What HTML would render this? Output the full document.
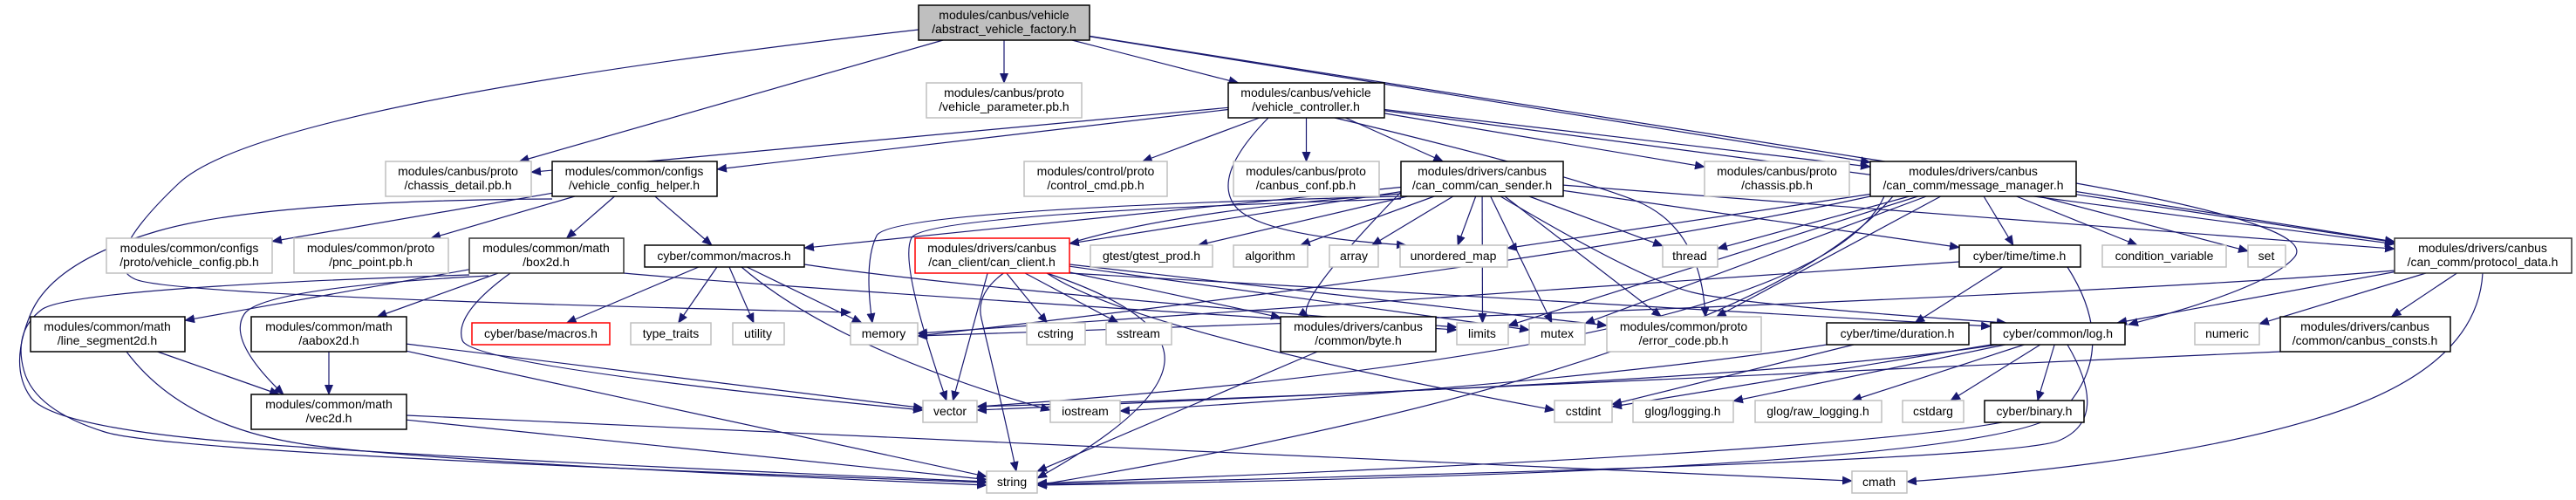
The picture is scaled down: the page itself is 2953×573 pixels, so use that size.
<!DOCTYPE html>
<html><head><meta charset="utf-8"><style>
html,body{margin:0;padding:0;background:#fff;}
svg{display:block;}
text{font-family:"Liberation Sans",sans-serif;font-size:14px;fill:#000;}
</style></head><body>
<svg id="g" width="2953" height="573" viewBox="0 0 2953 573" xmlns="http://www.w3.org/2000/svg">
<defs><marker id="ah" markerWidth="12" markerHeight="10" refX="11" refY="5" orient="auto" markerUnits="userSpaceOnUse"><path d="M0,0 L12,5 L0,10 z" fill="#191970"/></marker></defs>
<g id="edges" fill="none" stroke="#191970" stroke-width="1.2"></g>
<g id="nodes" stroke-width="1.5">
<rect x="1053" y="6" width="196" height="40" fill="#bfbfbf" stroke="#000"/><text x="1151" y="22" text-anchor="middle">modules/canbus/vehicle</text><text x="1151" y="38" text-anchor="middle">/abstract_vehicle_factory.h</text>
<rect x="1062" y="95" width="178" height="40" fill="#fff" stroke="#bfbfbf"/><text x="1151" y="111" text-anchor="middle">modules/canbus/proto</text><text x="1151" y="127" text-anchor="middle">/vehicle_parameter.pb.h</text>
<rect x="1408" y="95" width="179" height="40" fill="#fff" stroke="#000"/><text x="1497" y="111" text-anchor="middle">modules/canbus/vehicle</text><text x="1497" y="127" text-anchor="middle">/vehicle_controller.h</text>
<rect x="442" y="185" width="167" height="40" fill="#fff" stroke="#bfbfbf"/><text x="525" y="201" text-anchor="middle">modules/canbus/proto</text><text x="525" y="217" text-anchor="middle">/chassis_detail.pb.h</text>
<rect x="633" y="185" width="189" height="40" fill="#fff" stroke="#000"/><text x="727" y="201" text-anchor="middle">modules/common/configs</text><text x="727" y="217" text-anchor="middle">/vehicle_config_helper.h</text>
<rect x="1174" y="185" width="164" height="40" fill="#fff" stroke="#bfbfbf"/><text x="1256" y="201" text-anchor="middle">modules/control/proto</text><text x="1256" y="217" text-anchor="middle">/control_cmd.pb.h</text>
<rect x="1414" y="185" width="167" height="40" fill="#fff" stroke="#bfbfbf"/><text x="1497" y="201" text-anchor="middle">modules/canbus/proto</text><text x="1497" y="217" text-anchor="middle">/canbus_conf.pb.h</text>
<rect x="1606" y="185" width="186" height="40" fill="#fff" stroke="#000"/><text x="1699" y="201" text-anchor="middle">modules/drivers/canbus</text><text x="1699" y="217" text-anchor="middle">/can_comm/can_sender.h</text>
<rect x="1954" y="185" width="166" height="40" fill="#fff" stroke="#bfbfbf"/><text x="2037" y="201" text-anchor="middle">modules/canbus/proto</text><text x="2037" y="217" text-anchor="middle">/chassis.pb.h</text>
<rect x="2144" y="185" width="236" height="40" fill="#fff" stroke="#000"/><text x="2262" y="201" text-anchor="middle">modules/drivers/canbus</text><text x="2262" y="217" text-anchor="middle">/can_comm/message_manager.h</text>
<rect x="122" y="273" width="190" height="40" fill="#fff" stroke="#bfbfbf"/><text x="217" y="289" text-anchor="middle">modules/common/configs</text><text x="217" y="305" text-anchor="middle">/proto/vehicle_config.pb.h</text>
<rect x="337" y="273" width="177" height="40" fill="#fff" stroke="#bfbfbf"/><text x="425" y="289" text-anchor="middle">modules/common/proto</text><text x="425" y="305" text-anchor="middle">/pnc_point.pb.h</text>
<rect x="538" y="273" width="177" height="40" fill="#fff" stroke="#333"/><text x="626" y="289" text-anchor="middle">modules/common/math</text><text x="626" y="305" text-anchor="middle">/box2d.h</text>
<rect x="739" y="281" width="183" height="25" fill="#fff" stroke="#000"/><text x="830" y="298" text-anchor="middle">cyber/common/macros.h</text>
<rect x="1049" y="273" width="177" height="40" fill="#fff" stroke="#f00"/><text x="1137" y="289" text-anchor="middle">modules/drivers/canbus</text><text x="1137" y="305" text-anchor="middle">/can_client/can_client.h</text>
<rect x="1250" y="281" width="140" height="25" fill="#fff" stroke="#bfbfbf"/><text x="1320" y="298" text-anchor="middle">gtest/gtest_prod.h</text>
<rect x="1414" y="281" width="85" height="25" fill="#fff" stroke="#bfbfbf"/><text x="1456" y="298" text-anchor="middle">algorithm</text>
<rect x="1524" y="281" width="56" height="25" fill="#fff" stroke="#bfbfbf"/><text x="1552" y="298" text-anchor="middle">array</text>
<rect x="1605" y="281" width="123" height="25" fill="#fff" stroke="#bfbfbf"/><text x="1666" y="298" text-anchor="middle">unordered_map</text>
<rect x="1906" y="281" width="63" height="25" fill="#fff" stroke="#bfbfbf"/><text x="1937" y="298" text-anchor="middle">thread</text>
<rect x="2246" y="281" width="139" height="25" fill="#fff" stroke="#000"/><text x="2315" y="298" text-anchor="middle">cyber/time/time.h</text>
<rect x="2410" y="281" width="142" height="25" fill="#fff" stroke="#bfbfbf"/><text x="2481" y="298" text-anchor="middle">condition_variable</text>
<rect x="2577" y="281" width="43" height="25" fill="#fff" stroke="#bfbfbf"/><text x="2598" y="298" text-anchor="middle">set</text>
<rect x="2745" y="273" width="203" height="40" fill="#fff" stroke="#333"/><text x="2846" y="289" text-anchor="middle">modules/drivers/canbus</text><text x="2846" y="305" text-anchor="middle">/can_comm/protocol_data.h</text>
<rect x="35" y="363" width="177" height="40" fill="#fff" stroke="#000"/><text x="123" y="379" text-anchor="middle">modules/common/math</text><text x="123" y="395" text-anchor="middle">/line_segment2d.h</text>
<rect x="288" y="363" width="178" height="40" fill="#fff" stroke="#000"/><text x="377" y="379" text-anchor="middle">modules/common/math</text><text x="377" y="395" text-anchor="middle">/aabox2d.h</text>
<rect x="541" y="370" width="158" height="25" fill="#fff" stroke="#f00"/><text x="620" y="387" text-anchor="middle">cyber/base/macros.h</text>
<rect x="723" y="370" width="92" height="25" fill="#fff" stroke="#bfbfbf"/><text x="769" y="387" text-anchor="middle">type_traits</text>
<rect x="840" y="370" width="59" height="25" fill="#fff" stroke="#bfbfbf"/><text x="869" y="387" text-anchor="middle">utility</text>
<rect x="975" y="370" width="77" height="25" fill="#fff" stroke="#bfbfbf"/><text x="1013" y="387" text-anchor="middle">memory</text>
<rect x="1177" y="370" width="67" height="25" fill="#fff" stroke="#bfbfbf"/><text x="1210" y="387" text-anchor="middle">cstring</text>
<rect x="1268" y="370" width="75" height="25" fill="#fff" stroke="#bfbfbf"/><text x="1305" y="387" text-anchor="middle">sstream</text>
<rect x="1468" y="363" width="178" height="40" fill="#fff" stroke="#000"/><text x="1557" y="379" text-anchor="middle">modules/drivers/canbus</text><text x="1557" y="395" text-anchor="middle">/common/byte.h</text>
<rect x="1670" y="370" width="59" height="25" fill="#fff" stroke="#bfbfbf"/><text x="1699" y="387" text-anchor="middle">limits</text>
<rect x="1753" y="370" width="64" height="25" fill="#fff" stroke="#bfbfbf"/><text x="1785" y="387" text-anchor="middle">mutex</text>
<rect x="1842" y="363" width="177" height="40" fill="#fff" stroke="#bfbfbf"/><text x="1930" y="379" text-anchor="middle">modules/common/proto</text><text x="1930" y="395" text-anchor="middle">/error_code.pb.h</text>
<rect x="2094" y="370" width="163" height="25" fill="#fff" stroke="#000"/><text x="2175" y="387" text-anchor="middle">cyber/time/duration.h</text>
<rect x="2282" y="370" width="154" height="25" fill="#fff" stroke="#000"/><text x="2359" y="387" text-anchor="middle">cyber/common/log.h</text>
<rect x="2516" y="370" width="74" height="25" fill="#fff" stroke="#bfbfbf"/><text x="2553" y="387" text-anchor="middle">numeric</text>
<rect x="2614" y="363" width="195" height="40" fill="#fff" stroke="#000"/><text x="2711" y="379" text-anchor="middle">modules/drivers/canbus</text><text x="2711" y="395" text-anchor="middle">/common/canbus_consts.h</text>
<rect x="288" y="452" width="178" height="40" fill="#fff" stroke="#000"/><text x="377" y="468" text-anchor="middle">modules/common/math</text><text x="377" y="484" text-anchor="middle">/vec2d.h</text>
<rect x="1058" y="459" width="62" height="25" fill="#fff" stroke="#bfbfbf"/><text x="1089" y="476" text-anchor="middle">vector</text>
<rect x="1204" y="459" width="80" height="25" fill="#fff" stroke="#bfbfbf"/><text x="1244" y="476" text-anchor="middle">iostream</text>
<rect x="1782" y="459" width="66" height="25" fill="#fff" stroke="#bfbfbf"/><text x="1815" y="476" text-anchor="middle">cstdint</text>
<rect x="1872" y="459" width="115" height="25" fill="#fff" stroke="#bfbfbf"/><text x="1929" y="476" text-anchor="middle">glog/logging.h</text>
<rect x="2012" y="459" width="145" height="25" fill="#fff" stroke="#bfbfbf"/><text x="2084" y="476" text-anchor="middle">glog/raw_logging.h</text>
<rect x="2181" y="459" width="70" height="25" fill="#fff" stroke="#bfbfbf"/><text x="2216" y="476" text-anchor="middle">cstdarg</text>
<rect x="2275" y="459" width="114" height="25" fill="#fff" stroke="#000"/><text x="2332" y="476" text-anchor="middle">cyber/binary.h</text>
<rect x="1131" y="540" width="58" height="25" fill="#fff" stroke="#bfbfbf"/><text x="1160" y="557" text-anchor="middle">string</text>
<rect x="2123" y="540" width="63" height="25" fill="#fff" stroke="#bfbfbf"/><text x="2154" y="557" text-anchor="middle">cmath</text>
</g>
</svg>
<script>
var N={F:[1053,6,1249,46],VP:[1062,95,1240,135],VC:[1408,95,1587,135],CD:[442,185,609,225],CH:[633,185,822,225],CC:[1174,185,1338,225],CB:[1414,185,1581,225],CS:[1606,185,1792,225],CP:[1954,185,2120,225],MM:[2144,185,2380,225],
VCP:[122,273,312,313],PNC:[337,273,514,313],BOX:[538,273,715,313],MAC:[739,281,922,306],CL:[1049,273,1226,313],GT:[1250,281,1390,306],ALG:[1414,281,1499,306],ARR:[1524,281,1580,306],UM:[1605,281,1728,306],TH:[1906,281,1969,306],TIME:[2246,281,2385,306],CV:[2410,281,2552,306],SET:[2577,281,2620,306],PD:[2745,273,2948,313],
LS:[35,363,212,403],AAB:[288,363,466,403],BMAC:[541,370,699,395],TT:[723,370,815,395],UT:[840,370,899,395],MEM:[975,370,1052,395],CSTR:[1177,370,1244,395],SS:[1268,370,1343,395],BYTE:[1468,363,1646,403],LIM:[1670,370,1729,395],MUT:[1753,370,1817,395],ERR:[1842,363,2019,403],DUR:[2094,370,2257,395],LOG:[2282,370,2436,395],NUM:[2516,370,2590,395],CBC:[2614,363,2809,403],
VEC:[288,452,466,492],VECT:[1058,459,1120,484],IOS:[1204,459,1284,484],CI:[1782,459,1848,484],GL:[1872,459,1987,484],GRL:[2012,459,2157,484],CA:[2181,459,2251,484],BIN:[2275,459,2389,484],STR:[1131,540,1189,565],CM:[2123,540,2186,565]};
var E=[
['F','CD'],['F','VP'],['F','VC'],['F','MM'],['F','PD'],['F','MEM',[[1053,34],[300,120],[110,300],[200,340],[975,358]]],
['VC','CD'],['VC','CH'],['VC','CC'],['VC','CB'],['VC','CS'],['VC','CP'],['VC','MM'],['VC','PD'],['VC','UM',[[1454,135],[1390,200],[1440,270],[1612,281]]],['VC','ERR',[[1530,135],[1800,200],[1950,260],[1955,363]]],
['CH','STR',[[633,228],[300,230],[60,300],[10,420],[60,490],[500,525],[1131,552]]],['CH','VCP'],['CH','PNC'],['CH','BOX'],['CH','MAC'],
['BOX','LS'],['BOX','AAB'],['BOX','VEC',[[560,316],[300,330],[260,390],[325,452]]],['BOX','STR',[[538,315],[80,330],[15,380],[40,470],[200,520],[1131,553]]],['BOX','VECT',[[585,313],[520,360],[540,420],[1058,470]]],['BOX','LIM',[[715,313],[900,330],[1670,378]]],
['LS','VEC'],['LS','STR',[[145,403],[210,490],[500,530],[1131,556]]],
['AAB','VEC'],['AAB','VECT'],['AAB','STR'],
['VEC','STR'],['VEC','CM'],
['MAC','BMAC'],['MAC','TT'],['MAC','UT'],['MAC','MEM'],['MAC','IOS',[[850,306],[960,400],[1204,470]]],['MAC','LIM',[[922,303],[1100,330],[1670,375]]],
['CL','VECT'],['CL','CSTR'],['CL','SS'],['CL','STR',[[1200,313],[1340,360],[1330,470],[1189,548]]],['CL','BYTE'],['CL','LOG',[[1226,313],[1700,340],[2282,374]]],['CL','ERR'],['CL','CI',[[1200,313],[1300,380],[1782,470]]],['CL','MUT'],
['CS','MAC'],['CS','CL'],['CS','GT'],['CS','ALG'],['CS','ARR'],['CS','UM'],['CS','TH'],['CS','MUT'],['CS','ERR'],['CS','LOG',[[1720,225],[1880,320],[2000,350],[2300,370]]],['CS','TIME'],['CS','PD'],['CS','MEM',[[1606,225],[1020,240],[990,300],[1000,370]]],['CS','VECT',[[1606,228],[1060,245],[1030,300],[1085,459]]],['CS','STR',[[1606,222],[1100,260],[1150,470],[1165,540]]],['CS','BYTE',[[1606,220],[1480,350],[1500,363]]],['CS','LIM'],
['MM','UM'],['MM','TH'],['MM','TIME'],['MM','CV'],['MM','SET'],['MM','PD'],['MM','LOG',[[2380,210],[2660,260],[2600,330],[2440,372]]],['MM','ERR'],['MM','MUT'],['MM','MEM',[[2144,225],[1800,300],[1052,385]]],['MM','LIM'],['MM','STR',[[2170,225],[2000,420],[1189,556]]],['MM','VECT',[[2160,225],[2080,400],[1120,466]]],
['TIME','DUR'],['TIME','STR',[[2370,306],[2430,400],[2300,540],[1189,556]]],['TIME','MEM',[[2246,300],[1800,330],[1052,382]]],
['DUR','CI'],['DUR','IOS',[[2094,395],[1800,440],[1284,471]]],
['LOG','CA'],['LOG','BIN'],['LOG','GL'],['LOG','GRL'],['LOG','CI'],['LOG','STR',[[2370,395],[2420,480],[2300,530],[1189,555]]],['LOG','VECT',[[2290,395],[2000,440],[1120,466]]],
['BIN','STR',[[2295,484],[2100,520],[1189,554]]],['BYTE','STR'],
['PD','NUM'],['PD','CBC'],['PD','CM',[[2846,313],[2840,420],[2500,530],[2186,552]]],['PD','LOG'],['PD','MEM',[[2745,310],[2400,340],[1052,385]]],
['CBC','VECT',[[2614,403],[2300,420],[1120,470]]]
];
function c(b){return[(b[0]+b[2])/2,(b[1]+b[3])/2];}
function clip(b,p,q){var x=p[0],y=p[1],dx=q[0]-x,dy=q[1]-y,t=1;
 var hw=(b[2]-b[0])/2,hh=(b[3]-b[1])/2;
 if(dx!==0)t=Math.min(t,Math.abs(hw/dx));if(dy!==0)t=Math.min(t,Math.abs(hh/dy));return[x+dx*t,y+dy*t];}
var g=document.getElementById('edges'),s='';
E.forEach(function(e){var a=N[e[0]],b=N[e[1]],d;
 if(e[2]){var p=e[2].slice();var last=p[p.length-1];d='M'+p[0][0]+','+p[0][1];
  for(var i=1;i<p.length-1;i++){var mx=(p[i][0]+p[i+1][0])/2,my=(p[i][1]+p[i+1][1])/2;if(i==p.length-2){mx=last[0];my=last[1];}d+=' Q'+p[i][0]+','+p[i][1]+' '+mx+','+my;}
  if(p.length==2)d+=' L'+last[0]+','+last[1];}
 else{var ca=c(a),cb=c(b);var p1=clip(a,ca,cb),p2=clip(b,cb,ca);d='M'+p1[0].toFixed(1)+','+p1[1].toFixed(1)+' L'+p2[0].toFixed(1)+','+p2[1].toFixed(1);}
 s+='<path d="'+d+'" marker-end="url(#ah)"/>';});
g.innerHTML=s;
</script>
</body></html>
